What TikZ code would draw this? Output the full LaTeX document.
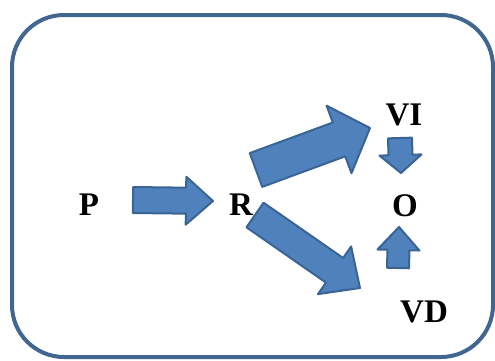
\documentclass[tikz,border=0pt]{standalone}
\usepackage{fontspec}
\setmainfont{Liberation Serif}
\usetikzlibrary{calc}
\definecolor{framecol}{HTML}{41668F}
\definecolor{arrowfill}{HTML}{4F81BD}
\definecolor{arrowline}{HTML}{3A6493}
\tikzset{
  lbl/.style={font=\bfseries\fontsize{33}{35}\selectfont, inner sep=0pt},
  barrowstyle/.style={fill=arrowfill, draw=arrowline, line width=2pt, line join=round},
}
\newcommand\blockarrow[5]{%
  \coordinate (neck) at ($(#2)!#5!(#1)$);
  \path[barrowstyle] ($(#1)!#3!90:(#2)$) -- ($(neck)!#3!90:(#2)$) -- ($(neck)!#4!90:(#2)$) -- (#2)
    -- ($(neck)!#4!-90:(#2)$) -- ($(neck)!#3!-90:(#2)$) -- ($(#1)!#3!-90:(#2)$) -- cycle;}
\begin{document}
\begin{tikzpicture}[x=1pt,y=-1pt]
\useasboundingbox (0,0) rectangle (495,360);
\draw[framecol, line width=4pt, rounded corners=52pt] (12,15) rectangle (493,357);
\node[lbl] (P) at (89,205) {P};
\node[lbl] (R) at (241,205) {R};
\node[lbl] (VI) at (404,115) {VI};
\node[lbl] (O) at (405,206) {O};
\node[lbl] (VD) at (424,312) {VD};
\coordinate (a1) at (133,200); \coordinate (b1) at (213,201);
\coordinate (a2) at (256,170); \coordinate (b2) at (370,128);
\coordinate (a3) at (255,215); \coordinate (b3) at (360,288);
\coordinate (a4) at (400,138); \coordinate (b4) at (401,173);
\coordinate (a5) at (398,268); \coordinate (b5) at (399,227);
\blockarrow{a1}{b1}{13pt}{24pt}{27pt}
\blockarrow{a2}{b2}{18pt}{36pt}{33pt}
\blockarrow{a3}{b3}{15pt}{29pt}{31pt}
\blockarrow{a4}{b4}{12pt}{21pt}{18pt}
\blockarrow{a5}{b5}{11pt}{21pt}{23pt}
\end{tikzpicture}
\end{document}
